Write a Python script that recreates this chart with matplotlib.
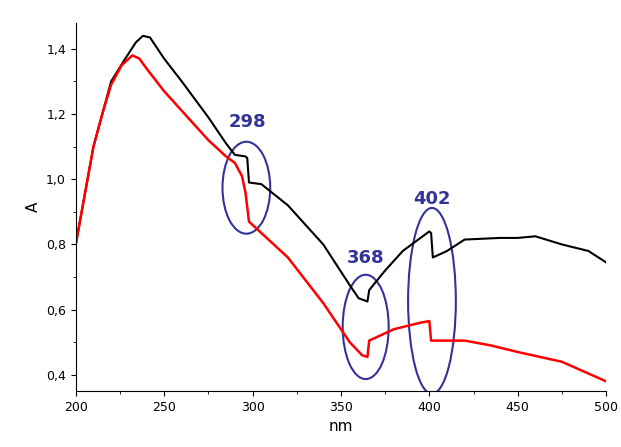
import matplotlib
matplotlib.use("Agg")
import matplotlib.pyplot as plt
from matplotlib.patches import Ellipse
from matplotlib.ticker import MultipleLocator, FuncFormatter

# black curve
nm_preto = [200, 205, 210, 215, 220, 228, 234, 238, 242, 250, 260, 275, 285, 290, 296, 297,
            298, 305, 320, 340, 355, 360, 365, 366, 375, 385, 395, 400, 401, 402, 410, 420,
            440, 450, 460, 475, 490, 500]
a_preto = [0.80, 0.95, 1.10, 1.20, 1.30, 1.37, 1.42, 1.44, 1.435, 1.37, 1.30, 1.19, 1.11, 1.075,
           1.07, 1.065, 0.99, 0.985, 0.92, 0.80, 0.675, 0.635, 0.625, 0.66, 0.72, 0.78, 0.82,
           0.84, 0.835, 0.76, 0.78, 0.815, 0.82, 0.82, 0.825, 0.80, 0.78, 0.745]

# red curve
nm_verm = [200, 205, 210, 215, 220, 226, 232, 236, 240, 250, 260, 275, 285, 290, 294, 296,
           298, 300, 320, 340, 355, 362, 365, 366, 380, 395, 400, 401, 420, 435, 450, 475, 500]
a_verm = [0.80, 0.95, 1.10, 1.20, 1.29, 1.35, 1.38, 1.37, 1.34, 1.27, 1.21, 1.12, 1.07, 1.05,
          1.01, 0.96, 0.87, 0.86, 0.76, 0.62, 0.50, 0.46, 0.455, 0.505, 0.54, 0.56, 0.565,
          0.505, 0.505, 0.49, 0.47, 0.44, 0.38]

rotulos = ["298", "368", "402"]
rot_x = [297, 364, 401.5]
rot_y = [1.176, 0.759, 0.94]
elip_cx = [296.5, 364, 401.5]
elip_cy = [0.974, 0.547, 0.627]
elip_w = [27, 26, 27]
elip_h = [0.282, 0.32, 0.57]

fig = plt.figure(figsize=(6.21, 4.47), dpi=100)
ax = fig.add_axes([0.122, 0.125, 0.854, 0.824])
ax.plot(nm_preto, a_preto, color="black", lw=1.5)
ax.plot(nm_verm, a_verm, color="red", lw=1.8)

azul = "#333399"
for i in range(len(rotulos)):
    ax.add_patch(Ellipse((elip_cx[i], elip_cy[i]), elip_w[i], elip_h[i],
                         fill=False, edgecolor=azul, lw=1.5))
    ax.text(rot_x[i], rot_y[i], rotulos[i], color=azul, fontsize=13,
            fontweight="bold", ha="center", va="center")

ax.set_xlim(200, 500)
ax.set_ylim(0.35, 1.48)
ax.spines["top"].set_visible(False)
ax.spines["right"].set_visible(False)
ax.xaxis.set_major_locator(MultipleLocator(50))
ax.xaxis.set_minor_locator(MultipleLocator(25))
ax.yaxis.set_major_locator(MultipleLocator(0.2))
ax.yaxis.set_minor_locator(MultipleLocator(0.1))
ax.yaxis.set_major_formatter(FuncFormatter(lambda v, p: ("%.1f" % v).replace(".", ",")))
ax.tick_params(direction="out", labelsize=9)
ax.set_xlabel("nm", fontsize=11)
ax.set_ylabel("A", fontsize=11)

fig.savefig("out.png")
